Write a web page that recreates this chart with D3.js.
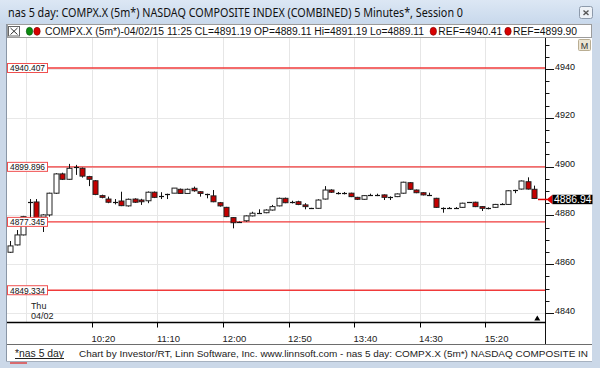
<!DOCTYPE html>
<html>
<head>
    <meta charset="utf-8">
    <script src="https://d3js.org/d3.v7.min.js"></script>
    <title>nas 5 day</title>
    <style>
        body { margin: 0; background: #fff; }
        text { font-family: "Liberation Sans", Arial, sans-serif; }
    </style>
</head>
<body>
<svg id="chart"></svg>
<script>
// ---- data ----
const symbol = "COMPX.X (5m*)";
const titleText = "nas 5 day: COMPX.X (5m*) NASDAQ COMPOSITE INDEX (COMBINED) 5 Minutes*, Session 0";
const footerLink = "*nas 5 day";
const footerText = "Chart by Investor/RT, Linn Software, Inc. www.linnsoft.com - nas 5 day: COMPX.X (5m*) NASDAQ COMPOSITE IN";

// 5 minute bars (first three are the end of the previous session)
const open  = [4864.9,4867.9,4872.0,4885.5,4885.5,4879.3,4880.2,4889.1,4897.0,4894.8,
               4899.9,4899.3,4895.9,4894.2,4888.1,4886.7,4885.6,4885.9,4883.9,4886.7,
               4886.3,4886.0,4889.5,4888.1,4888.8,4889.11,4890.7,4889.0,4891.1,4889.7,
               4888.8,4888.0,4885.2,4883.3,4879.1,4877.4,4877.8,4879.8,4880.9,4881.1,
               4882.2,4883.9,4887.0,4885.4,4885.6,4884.3,4882.9,4882.9,4886.7,4890.4,
               4889.1,4889.1,4889.1,4887.4,4886.6,4888.4,4888.4,4888.4,4887.4,4887.7,
               4889.1,4893.4,4890.4,4889.3,4888.4,4887.0,4882.9,4883.2,4883.2,4883.3,
               4885.4,4885.4,4883.6,4882.9,4883.3,4884.7,4884.5,4890.4,4890.8,4893.8,
               4890.7];
const high  = [4869.5,4874.0,4879.8,4886.7,4886.7,4880.5,4889.3,4897.3,4897.5,4901.1,
               4900.7,4899.6,4896.2,4894.5,4888.5,4887.7,4886.7,4889.7,4886.9,4887.0,
               4886.8,4889.8,4889.8,4889.5,4888.9,4891.19,4891.0,4891.0,4891.8,4889.9,
               4888.9,4890.4,4885.5,4883.5,4879.3,4877.5,4880.0,4881.5,4882.5,4882.5,
               4884.3,4887.3,4887.3,4886.0,4886.0,4885.0,4883.1,4886.6,4892.0,4890.7,
               4889.6,4889.6,4889.3,4887.6,4888.3,4888.9,4888.9,4888.6,4887.8,4889.0,
               4893.8,4893.6,4890.6,4889.5,4889.3,4887.2,4883.3,4883.4,4883.4,4885.2,
               4885.5,4885.6,4883.8,4883.3,4884.7,4885.0,4890.3,4890.5,4894.3,4895.6,
               4892.2];
const low   = [4864.6,4867.7,4871.8,4878.1,4877.3,4873.2,4879.5,4888.8,4894.5,4894.6,
               4896.6,4895.5,4892.0,4888.3,4887.0,4885.0,4884.5,4883.8,4883.6,4885.1,
               4884.3,4885.0,4887.1,4886.7,4886.7,4889.11,4888.8,4888.8,4889.7,4887.7,
               4887.0,4885.4,4883.6,4879.3,4874.7,4876.9,4877.4,4879.6,4880.7,4880.9,
               4882.0,4883.7,4885.0,4884.9,4884.2,4882.5,4882.7,4882.7,4886.5,4889.2,
               4888.6,4888.6,4887.5,4886.3,4886.4,4888.0,4887.9,4886.3,4886.3,4887.5,
               4888.9,4890.5,4889.1,4888.2,4888.2,4883.1,4881.1,4882.9,4882.9,4883.1,
               4885.2,4883.4,4881.8,4882.5,4883.1,4884.5,4884.3,4889.1,4890.6,4890.6,
               4886.7];
const close = [4867.5,4872.0,4879.5,4885.6,4878.8,4880.2,4889.1,4897.0,4894.8,4899.3,
               4900.0,4896.1,4894.8,4888.6,4887.4,4885.4,4885.6,4884.0,4886.6,4885.4,
               4885.6,4889.5,4887.4,4888.1,4888.8,4891.19,4889.0,4890.7,4890.1,4889.0,
               4888.8,4885.6,4883.9,4879.5,4877.0,4877.4,4879.8,4880.9,4880.9,4882.2,
               4883.6,4887.0,4885.2,4885.4,4884.5,4883.6,4882.9,4886.3,4890.4,4889.5,
               4889.1,4889.1,4887.7,4886.6,4888.1,4888.4,4888.4,4887.4,4887.4,4888.8,
               4893.6,4890.7,4889.3,4888.4,4888.4,4883.3,4882.9,4883.2,4883.2,4885.0,
               4885.4,4883.6,4882.9,4882.9,4884.5,4884.7,4890.1,4890.4,4894.1,4890.8,
               4886.94];
const legendBar = 25;          // 04/02/15 11:25 bar shown in the legend
const legendDate = "04/02/15 11:25";
const firstSessionBar = 3;     // first bar of Thu 04/02 (9:30-9:35)
const dayLabel = ["Thu", "04/02"];

const refLevels = [4940.407, 4899.896, 4877.345, 4849.334];
const refLegend = [4940.407, 4899.896];

const yMajor = [4840, 4860, 4880, 4900, 4920, 4940];
const xTickLabels = ["10:20", "11:10", "12:00", "12:50", "13:40", "14:30", "15:20"];

// ---- layout ----
const W = 600, H = 368;
const plot = {left: 7, right: 545, top: 38, bottom: 322};

const svg = d3.select("#chart").attr("width", W).attr("height", H);

const x = d3.scaleLinear().domain([0, open.length - 1]).range([10, 534.3]);
const y = d3.scaleLinear().domain([4840, 4940]).range([313, 69]);

function timeToIndex(t) {
    const [h, m] = t.split(":").map(Number);
    return firstSessionBar - 0.5 + (h * 60 + m - 570) / 5;
}

// window frame + title bar
const defs = svg.append("defs");
const grad = defs.append("linearGradient").attr("id", "tb").attr("x1", 0).attr("y1", 0).attr("x2", 0).attr("y2", 1);
grad.append("stop").attr("offset", "0%").attr("stop-color", "#dce7f4");
grad.append("stop").attr("offset", "100%").attr("stop-color", "#c9d9ec");
defs.append("clipPath").attr("id", "plotclip").append("rect")
    .attr("x", plot.left).attr("y", plot.top)
    .attr("width", plot.right - plot.left).attr("height", plot.bottom - plot.top);

svg.append("rect").attr("width", W).attr("height", H).attr("fill", "#cbd8e8");
svg.append("rect").attr("width", W).attr("height", 23).attr("fill", "url(#tb)");
svg.append("text").attr("x", 8).attr("y", 16.5)
    .style("font-family", "'Noto Sans', sans-serif").style("font-size", "12px")
    .attr("textLength", 455).attr("lengthAdjust", "spacingAndGlyphs")
    .attr("fill", "#111").text(titleText);

// close button
svg.append("rect").attr("x", 579.5).attr("y", 6.5).attr("width", 13).attr("height", 12).attr("rx", 2)
    .attr("fill", "#eef2f7").attr("stroke", "#8d9aab");
svg.append("path").attr("d", "M583.5,10.5 L588.5,15 M588.5,10.5 L583.5,15")
    .attr("stroke", "#555").attr("stroke-width", 1.4);

// legend strip
svg.append("rect").attr("x", 7.5).attr("y", 24.5).attr("width", 584).attr("height", 13)
    .attr("fill", "#fff").attr("stroke", "#9c9c9c");
svg.append("rect").attr("x", 8.5).attr("y", 26.5).attr("width", 11).attr("height", 9.5)
    .attr("fill", "#fff").attr("stroke", "#666");
svg.append("path").attr("d", "M10.5,28 L17.5,34.5 M17.5,28 L10.5,34.5").attr("stroke", "#333");
svg.append("ellipse").attr("cx", 29.5).attr("cy", 31.3).attr("rx", 3.2).attr("ry", 4)
    .attr("fill", "#0b8c10").attr("stroke", "#05500a").attr("stroke-width", 0.6);
svg.append("ellipse").attr("cx", 37).attr("cy", 31.3).attr("rx", 3.2).attr("ry", 4)
    .attr("fill", "#d80000").attr("stroke", "#700").attr("stroke-width", 0.6);

const f2 = d3.format(".2f");
const legendMain = `${symbol}-${legendDate} CL=${f2(close[legendBar])} OP=${f2(open[legendBar])} Hi=${f2(high[legendBar])} Lo=${f2(low[legendBar])}`;
svg.append("text").attr("x", 45).attr("y", 35).style("font-size", "10px")
    .attr("textLength", 379).attr("lengthAdjust", "spacingAndGlyphs").attr("fill", "#111").text(legendMain);
const refX = [433.3, 508];
refLegend.forEach((v, i) => {
    svg.append("ellipse").attr("cx", refX[i]).attr("cy", 31.3).attr("rx", 3.2).attr("ry", 4)
        .attr("fill", "#d80000").attr("stroke", "#700").attr("stroke-width", 0.6);
    svg.append("text").attr("x", refX[i] + 5).attr("y", 35).style("font-size", "10px")
        .attr("textLength", 64).attr("lengthAdjust", "spacingAndGlyphs").attr("fill", "#111")
        .text("REF=" + f2(v));
});

// panels
svg.append("rect").attr("x", plot.left).attr("y", plot.top)
    .attr("width", 585).attr("height", 323).attr("fill", "#fff");
svg.append("line").attr("x1", 6.5).attr("x2", 6.5).attr("y1", 24).attr("y2", 361.5)
    .attr("stroke", "#8a96a6");

// grid
const g = svg.append("g").attr("clip-path", "url(#plotclip)");
const gridTimes = ["9:30"].concat(xTickLabels);
g.selectAll(".vgrid").data(gridTimes).join("line")
    .attr("x1", d => Math.round(x(timeToIndex(d))) + 0.5)
    .attr("x2", d => Math.round(x(timeToIndex(d))) + 0.5)
    .attr("y1", plot.top).attr("y2", plot.bottom)
    .attr("stroke", "#e6e6e6");
g.selectAll(".hgrid").data(yMajor).join("line")
    .attr("x1", plot.left).attr("x2", plot.right)
    .attr("y1", d => Math.round(y(d)) + 0.5).attr("y2", d => Math.round(y(d)) + 0.5)
    .attr("stroke", "#e8e8e8");

// reference lines
g.selectAll(".ref").data(refLevels).join("line")
    .attr("x1", 47).attr("x2", plot.right)
    .attr("y1", d => y(d)).attr("y2", d => y(d))
    .attr("stroke", "#f03a3a").attr("stroke-width", 1.4);

// day label
g.selectAll(".day").data(dayLabel).join("text")
    .attr("x", x(timeToIndex("9:30")) + 4.5)
    .attr("y", (d, i) => 308.5 + i * 10)
    .style("font-size", "9px").attr("fill", "#222").text(d => d);

// candles
const bars = open.map((o, i) => ({i, o, h: high[i], l: low[i], c: close[i]}));
const cg = g.append("g");
cg.selectAll(".wick").data(bars).join("line")
    .attr("x1", d => Math.round(x(d.i)) + 0.5).attr("x2", d => Math.round(x(d.i)) + 0.5)
    .attr("y1", d => y(d.h)).attr("y2", d => y(d.l))
    .attr("stroke", "#111");
cg.selectAll(".body").data(bars.filter(d => Math.abs(d.c - d.o) >= 0.3)).join("rect")
    .attr("x", d => Math.round(x(d.i)) - 2)
    .attr("y", d => y(Math.max(d.o, d.c)))
    .attr("width", 5)
    .attr("height", d => Math.abs(y(d.o) - y(d.c)))
    .attr("fill", d => d.c > d.o ? "#fff" : "#c40000")
    .attr("stroke", "#222");
cg.selectAll(".doji").data(bars.filter(d => Math.abs(d.c - d.o) < 0.3)).join("line")
    .attr("x1", d => Math.round(x(d.i)) - 2).attr("x2", d => Math.round(x(d.i)) + 3)
    .attr("y1", d => Math.round(y(d.c)) + 0.5).attr("y2", d => Math.round(y(d.c)) + 0.5)
    .attr("stroke", "#111").attr("stroke-width", 1.2);

// ref labels
const rl = svg.selectAll(".reflab").data(refLevels).join("g");
rl.append("rect").attr("x", 7.5).attr("y", d => y(d) - 4.5).attr("width", 40).attr("height", 9)
    .attr("fill", "#fff").attr("stroke", "#f05050");
rl.append("text").attr("x", 10).attr("y", d => y(d) + 3.3)
    .style("font-size", "9px").attr("textLength", 35).attr("lengthAdjust", "spacingAndGlyphs")
    .attr("fill", "#111").text(d => d3.format(".3f")(d));

// right price axis
const yMinor = d3.range(4840, 4951, 5).filter(v => !yMajor.includes(v));
svg.append("line").attr("x1", plot.right + 0.5).attr("x2", plot.right + 0.5)
    .attr("y1", plot.top).attr("y2", 344).attr("stroke", "#111");
svg.selectAll(".ymin").data(yMinor).join("line")
    .attr("x1", plot.right).attr("x2", plot.right + 4.5)
    .attr("y1", d => Math.round(y(d)) + 0.5).attr("y2", d => Math.round(y(d)) + 0.5)
    .attr("stroke", "#111");
svg.selectAll(".ymaj").data(yMajor).join("line")
    .attr("x1", plot.right).attr("x2", plot.right + 9)
    .attr("y1", d => Math.round(y(d)) + 0.5).attr("y2", d => Math.round(y(d)) + 0.5)
    .attr("stroke", "#111");
svg.selectAll(".ylab").data(yMajor).join("text")
    .attr("x", plot.right + 10).attr("y", d => y(d) + 0.5)
    .style("font-size", "9px").attr("fill", "#111").text(d => d);

// M button
svg.append("rect").attr("x", 578.5).attr("y", 39.5).attr("width", 12).attr("height", 11).attr("rx", 1)
    .attr("fill", "#ece5d4").attr("stroke", "#b9ad92");
svg.append("text").attr("x", 584.5).attr("y", 48.5).attr("text-anchor", "middle")
    .style("font-size", "9px").attr("fill", "#333").text("M");

// last price tag
const last = close[close.length - 1];
const ly = y(last) + 1;
svg.append("line").attr("x1", 538).attr("x2", 547).attr("y1", ly).attr("y2", ly)
    .attr("stroke", "#e00000").attr("stroke-width", 1.5);
svg.append("path").attr("d", `M546.5,${ly} L552.5,${ly - 4.7} L552.5,${ly + 4.7} Z`).attr("fill", "#e00000");
svg.append("rect").attr("x", 552.5).attr("y", ly - 4.7).attr("width", 40).attr("height", 9.4).attr("fill", "#000");
svg.append("text").attr("x", 554).attr("y", ly + 3.7).style("font-size", "10px")
    .attr("textLength", 37.5).attr("lengthAdjust", "spacingAndGlyphs")
    .attr("fill", "#fff").text(f2(last));

// time axis
svg.append("line").attr("x1", plot.left).attr("x2", plot.right + 1).attr("y1", plot.bottom + 0.5).attr("y2", plot.bottom + 0.5)
    .attr("stroke", "#000").attr("stroke-width", 1.5);
svg.selectAll(".xt").data(xTickLabels).join("line")
    .attr("x1", d => Math.round(x(timeToIndex(d))) + 0.5).attr("x2", d => Math.round(x(timeToIndex(d))) + 0.5)
    .attr("y1", plot.bottom).attr("y2", plot.bottom + 5.5).attr("stroke", "#000");
svg.selectAll(".xl").data(xTickLabels).join("text")
    .attr("x", d => x(timeToIndex(d)) - 0.5).attr("y", 341.5)
    .style("font-size", "9.5px").attr("fill", "#222").text(d => d);
svg.append("path").attr("d", `M${x(open.length - 1) + 3},315.5 L${x(open.length - 1)},320.5 L${x(open.length - 1) + 6},320.5 Z`)
    .attr("fill", "#000");

// footer
svg.append("line").attr("x1", 7).attr("x2", 592).attr("y1", 344.5).attr("y2", 344.5).attr("stroke", "#6d6d6d");
svg.append("line").attr("x1", 7).attr("x2", 592).attr("y1", 361.5).attr("y2", 361.5).attr("stroke", "#a6b1bf");
svg.append("text").attr("x", 15).attr("y", 356.5)
    .style("font-size", "10.5px")
    .attr("textLength", 49).attr("lengthAdjust", "spacingAndGlyphs")
    .attr("fill", "#222").text(footerLink);
svg.append("line").attr("x1", 15).attr("x2", 64).attr("y1", 358.5).attr("y2", 358.5).attr("stroke", "#222");
svg.append("text").attr("x", 79).attr("y", 356.5)
    .style("font-size", "9.5px")
    .attr("textLength", 509).attr("lengthAdjust", "spacingAndGlyphs")
    .attr("fill", "#222").text(footerText);
svg.append("line").attr("x1", 10).attr("x2", 27).attr("y1", 363).attr("y2", 363)
    .attr("stroke", "#d44").attr("stroke-width", 1.5);
</script>
</body>
</html>
